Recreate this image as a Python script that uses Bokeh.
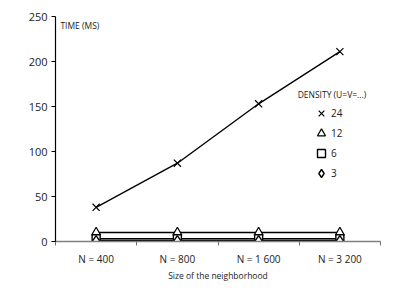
from bokeh.plotting import figure
from bokeh.models import FixedTicker, Label, Legend, LegendItem, Range1d
from bokeh.embed import file_html
from bokeh.resources import INLINE

categories = ["N = 400", "N = 800", "N = 1 600", "N = 3 200"]
d24 = [38, 87, 153, 211]
d12 = [10, 10, 10, 10]
d6 = [3, 3, 3, 3]
d3 = [1, 1, 1, 1]
y_ticks = [0, 50, 100, 150, 200, 250]

FONT = "Open Sans"
xs = [i + 0.5 for i in range(len(categories))]

p = figure(width=410, height=290, output_backend="svg", toolbar_location=None,
           x_range=Range1d(0, len(categories)), y_range=Range1d(0, 250),
           min_border_left=55, min_border_right=30, min_border_top=16, min_border_bottom=49)
p.outline_line_color = None
p.grid.visible = False
p.background_fill_color = "white"

# x axis
p.xaxis.ticker = FixedTicker(ticks=xs, minor_ticks=list(range(len(categories) + 1)))
p.xaxis.major_label_overrides = {x: c for x, c in zip(xs, categories)}
p.xaxis.major_tick_out = 0
p.xaxis.major_tick_in = 0
p.xaxis.minor_tick_out = 4
p.xaxis.minor_tick_in = 0
p.xaxis.minor_tick_line_color = "#707070"
p.xaxis.axis_line_color = "#808080"
p.xaxis.axis_line_width = 1.5
p.xaxis.major_label_text_font = FONT
p.xaxis.major_label_text_font_size = "10px"
p.xaxis.major_label_text_color = "#222222"
p.xaxis.major_label_standoff = 6
p.xaxis.axis_label = "Size of the neighborhood"
p.xaxis.axis_label_text_font = FONT
p.xaxis.axis_label_text_font_size = "8.5px"
p.xaxis.axis_label_text_font_style = "normal"
p.xaxis.axis_label_text_color = "#222222"
p.xaxis.axis_label_standoff = 1

# y axis
p.yaxis.ticker = FixedTicker(ticks=y_ticks, minor_ticks=[])
p.yaxis.major_tick_out = 4
p.yaxis.major_tick_in = 0
p.yaxis.axis_line_color = "black"
p.yaxis.axis_line_width = 1.2
p.yaxis.major_tick_line_color = "black"
p.yaxis.major_label_text_font = FONT
p.yaxis.major_label_text_font_size = "11px"
p.yaxis.major_label_text_color = "#222222"
p.yaxis.major_label_standoff = 4

# series
r24l = p.line(xs, d24, line_color="black", line_width=1.4)
r24m = p.scatter(xs, d24, marker="x", size=10, line_color="black", line_width=1.2)
r12l = p.line(xs, d12, line_color="black", line_width=1.4)
r12m = p.scatter(xs, d12, marker="triangle", size=9, line_color="black", fill_color="white", line_width=1.2)
r6l = p.line(xs, d6, line_color="black", line_width=1.6)
r6m = p.scatter(xs, d6, marker="square", size=8, line_color="black", fill_color="white", line_width=1.4)
r3l = p.line(xs, d3, line_color="black", line_width=1.6)
r3m = p.scatter(xs, d3, marker="diamond", size=10, line_color="black", fill_color="white", line_width=1.4)

legend = Legend(items=[
    LegendItem(label="24", renderers=[r24m]),
    LegendItem(label="12", renderers=[r12m]),
    LegendItem(label="6", renderers=[r6m]),
    LegendItem(label="3", renderers=[r3m]),
], location=(256, 58), orientation="vertical", padding=0, margin=0, spacing=0,
    glyph_width=20, glyph_height=20, label_height=20, label_standoff=0,
    label_text_font=FONT, label_text_font_size="10px", label_text_color="#222222",
    border_line_color=None, background_fill_alpha=0)
p.add_layout(legend, "center")

p.add_layout(Label(x=0.06, y=240, text="TIME (MS)", text_font=FONT, text_font_size="8.5px",
                   text_baseline="middle", text_color="#222222"))
p.add_layout(Label(x=2.98, y=163, text="DENSITY (U=V=...)", text_font=FONT, text_font_size="8.5px",
                   text_baseline="middle", text_color="#222222"))

open("out.html", "w").write(file_html(p, INLINE))
